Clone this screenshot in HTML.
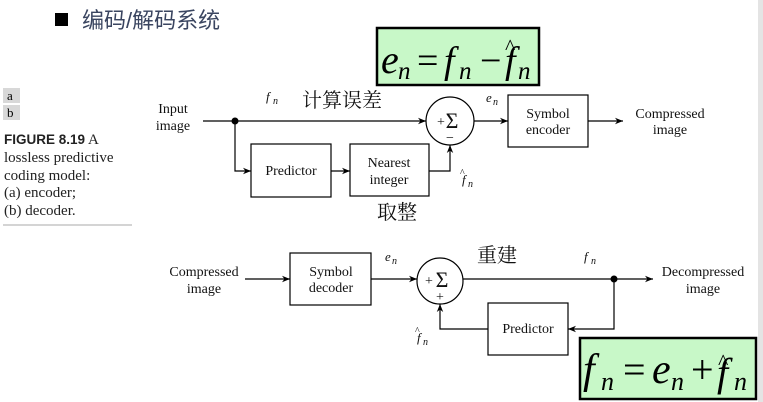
<!DOCTYPE html>
<html><head><meta charset="utf-8"><style>
html,body{margin:0;padding:0;background:#fff;}
svg{display:block;}
</style></head><body>
<svg width="763" height="402" viewBox="0 0 763 402" xmlns="http://www.w3.org/2000/svg">
<defs>
<marker id="ar" viewBox="0 0 10 10" refX="10" refY="5" markerWidth="10" markerHeight="8" markerUnits="userSpaceOnUse" orient="auto">
<path d="M0,1 L10,5 L0,9 L3,5 z" fill="#000"/></marker>
</defs>
<rect x="758" y="0" width="5" height="402" fill="#e4e4e4"/>
<!-- title -->
<rect x="55" y="13" width="13" height="13" fill="#000"/>
<text x="82" y="28" font-family="Liberation Sans, Noto Sans CJK SC, sans-serif" font-size="22" fill="#3a4560">编码/解码系统</text>
<!-- left caption -->
<rect x="3" y="88" width="17" height="15" fill="#d8d8d8"/>
<rect x="3" y="105" width="17" height="15" fill="#d8d8d8"/>
<text x="7" y="100" font-family="Liberation Serif, serif" font-size="13">a</text>
<text x="7" y="117" font-family="Liberation Serif, serif" font-size="13">b</text>
<g font-family="Liberation Serif, serif" font-size="15" fill="#222">
<text x="4" y="144"><tspan font-family="Liberation Sans, sans-serif" font-weight="bold" font-size="13.5">FIGURE 8.19</tspan> A</text>
<text x="4" y="162">lossless predictive</text>
<text x="4" y="180">coding model:</text>
<text x="4" y="197">(a) encoder;</text>
<text x="4" y="215">(b) decoder.</text>
</g>
<line x1="3" y1="225" x2="132" y2="225" stroke="#aaa" stroke-width="1"/>
<!-- green box 1 -->
<rect x="377" y="28" width="162" height="57" fill="#c8f8c8" stroke="#000" stroke-width="2.5"/>
<g font-family="Liberation Serif, serif" fill="#000">
<text x="381" y="73" font-size="40" font-style="italic">e</text>
<text x="398" y="79" font-size="25" font-style="italic">n</text>
<text x="417" y="73" font-size="38">=</text>
<text x="444" y="73" font-size="38" font-style="italic">f</text>
<text x="459" y="79" font-size="25" font-style="italic">n</text>
<text x="480" y="73" font-size="38">−</text>
<text x="505" y="73" font-size="38" font-style="italic">f</text>
<text x="505" y="54" font-size="22">^</text>
<text x="518" y="79" font-size="25" font-style="italic">n</text>
</g>
<!-- green box 2 -->
<rect x="580" y="338" width="176" height="61" fill="#c8f8c8" stroke="#000" stroke-width="2.5"/>
<g font-family="Liberation Serif, serif" fill="#000">
<text x="583" y="383" font-size="42" font-style="italic">f</text>
<text x="601" y="390" font-size="26" font-style="italic">n</text>
<text x="623" y="383" font-size="40">=</text>
<text x="652" y="383" font-size="42" font-style="italic">e</text>
<text x="671" y="390" font-size="26" font-style="italic">n</text>
<text x="691" y="383" font-size="40">+</text>
<text x="717" y="386" font-size="40" font-style="italic">f</text>
<text x="718" y="369" font-size="22">^</text>
<text x="734" y="390" font-size="26" font-style="italic">n</text>
</g>
<!-- encoder -->
<g stroke="#000" stroke-width="1.2" fill="none">
<line x1="203" y1="121" x2="426" y2="121" marker-end="url(#ar)"/>
<polyline points="235,121 235,171 251,171" marker-end="url(#ar)"/>
<rect x="251" y="144" width="80" height="53" fill="#fff"/>
<line x1="331" y1="171" x2="350" y2="171" marker-end="url(#ar)"/>
<rect x="350" y="144" width="79" height="52" fill="#fff"/>
<polyline points="429,171 450,171 450,145" marker-end="url(#ar)"/>
<circle cx="450" cy="121" r="24" fill="#fff"/>
<line x1="474" y1="121" x2="508" y2="121" marker-end="url(#ar)"/>
<rect x="508" y="95" width="80" height="52" fill="#fff"/>
<line x1="588" y1="121" x2="623" y2="121" marker-end="url(#ar)"/>
</g>
<circle cx="235" cy="121" r="3.5" fill="#000"/>
<g font-family="Liberation Serif, serif" font-size="14" fill="#111" text-anchor="middle">
<text x="173" y="113">Input</text>
<text x="173" y="130">image</text>
<text x="291" y="175">Predictor</text>
<text x="389" y="167">Nearest</text>
<text x="389" y="184">integer</text>
<text x="548" y="118">Symbol</text>
<text x="548" y="134">encoder</text>
<text x="670" y="118">Compressed</text>
<text x="670" y="134">image</text>
<text x="441" y="126">+</text>
<text x="452" y="128" font-size="22">Σ</text>
<text x="450" y="142">−</text>
</g>
<g font-family="Liberation Serif, serif" font-style="italic" fill="#111">
<text x="266" y="101" font-size="13">f</text><text x="273" y="104" font-size="10">n</text>
<text x="486" y="102" font-size="13">e</text><text x="493" y="105" font-size="10">n</text>
<text x="462" y="184" font-size="13">f</text><text x="460" y="176" font-size="10" font-style="normal">^</text><text x="468" y="187" font-size="10">n</text>
</g>
<g font-family="Liberation Serif, Noto Serif CJK SC, serif" font-size="20" fill="#111">
<text x="302" y="107">计算误差</text>
<text x="377" y="219">取整</text>
<text x="477" y="262">重建</text>
</g>
<!-- decoder -->
<g stroke="#000" stroke-width="1.2" fill="none">
<line x1="245" y1="279" x2="290" y2="279" marker-end="url(#ar)"/>
<rect x="290" y="253" width="81" height="52" fill="#fff"/>
<line x1="371" y1="279" x2="417" y2="279" marker-end="url(#ar)"/>
<circle cx="440" cy="281" r="23" fill="#fff"/>
<line x1="463" y1="279" x2="653" y2="279" marker-end="url(#ar)"/>
<polyline points="614,279 614,329 568,329" marker-end="url(#ar)"/>
<rect x="488" y="303" width="80" height="52" fill="#fff"/>
<polyline points="488,329 440,329 440,304" marker-end="url(#ar)"/>
</g>
<circle cx="614" cy="279" r="3.5" fill="#000"/>
<g font-family="Liberation Serif, serif" font-size="14" fill="#111" text-anchor="middle">
<text x="204" y="276">Compressed</text>
<text x="204" y="293">image</text>
<text x="331" y="276">Symbol</text>
<text x="331" y="292">decoder</text>
<text x="528" y="333">Predictor</text>
<text x="703" y="276">Decompressed</text>
<text x="703" y="293">image</text>
<text x="429" y="285">+</text>
<text x="442" y="287" font-size="22">Σ</text>
<text x="440" y="301">+</text>
</g>
<g font-family="Liberation Serif, serif" font-style="italic" fill="#111">
<text x="385" y="261" font-size="13">e</text><text x="392" y="264" font-size="10">n</text>
<text x="584" y="261" font-size="13">f</text><text x="591" y="264" font-size="10">n</text>
<text x="417" y="342" font-size="13">f</text><text x="415" y="334" font-size="10" font-style="normal">^</text><text x="423" y="345" font-size="10">n</text>
</g>
</svg>
</body></html>
